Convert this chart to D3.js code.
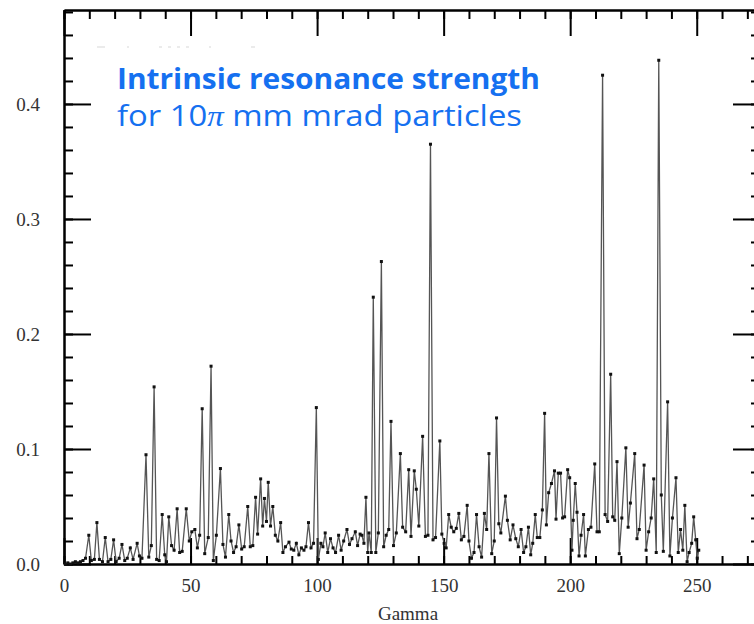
<!DOCTYPE html>
<html>
<head>
<meta charset="utf-8">
<script src="https://cdnjs.cloudflare.com/ajax/libs/d3/7.8.5/d3.min.js"></script>
<style>
  body { margin: 0; background: #fff; overflow: hidden; }
  svg { display: block; }
</style>
</head>
<body>
<script>
const width = 754
const height = 624

// gamma values and resonance strength
const gamma = [
  0.5, 1.5, 2.5, 3.5, 4.5, 5.5, 6.5, 7.5, 8.5, 9.8, 10.8, 12, 13, 14, 15.2, 16.3, 17.4, 18.5, 19.6, 20.6,
  21.8, 22.9, 24, 25, 26.2, 27.3, 28.9, 29.8, 30.8, 32.4, 33.5, 34.5, 35.6, 36.6, 37.6, 38.8, 39.8, 40.5, 41.4, 42.5,
  43.5, 44.7, 45.7, 46.7, 48.3, 49.5, 50.5, 51.7, 52.7, 53.6, 54.6, 55.6, 57, 58.1, 59, 60.2, 61.8, 62.8, 63.8, 65.1,
  66, 67, 68, 69.1, 70.2, 71.2, 72.6, 73.6, 74.6, 75.7, 76.5, 77.7, 78.5, 79.2, 80, 80.7, 81.6, 82.5, 83.5, 84.5,
  85.6, 86.5, 87.5, 88.9, 89.8, 90.8, 91.8, 92.8, 93.8, 94.8, 95.6, 96.6, 97.6, 98.6, 99.7, 100.5, 101.5, 102.3, 103.2, 104.2,
  105.3, 106.3, 107.3, 108.5, 109.5, 110.5, 111.8, 112.8, 113.8, 115.1, 116, 117, 117.7, 118.5, 119.3, 120, 120.5, 121.4, 122.2, 123.2,
  124.2, 125.4, 126.3, 127.3, 128.3, 129.2, 130.2, 131.3, 132.9, 133.8, 135, 136.2, 137.1, 138.4, 139.2, 140.2, 141.7, 142.8, 143.8, 144.8,
  145.8, 146.8, 148.5, 149.3, 150.2, 151, 152, 153, 154, 155, 156, 157, 158, 159.3, 160, 161, 162, 163, 164, 165,
  166.1, 167, 167.9, 169, 170, 170.9, 171.8, 172.6, 174.4, 175.2, 176.3, 177.4, 178.5, 179.5, 180.6, 181.6, 182.5, 183.5, 184.4, 185.2,
  186.2, 187, 188, 189, 189.9, 190.6, 191.5, 192.6, 193.8, 194.4, 195.3, 196.2, 197, 197.8, 199, 199.8, 200.7, 201.2, 202, 202.7,
  203.5, 204.3, 205.3, 206, 207.2, 208.2, 209.7, 210.6, 211.5, 212.8, 213.8, 214.8, 216, 216.8, 217.6, 218.5, 219.4, 220.4, 222, 222.9,
  223.8, 225.5, 226.4, 227.3, 229.2, 230, 231, 232, 233, 234, 235, 236, 236.8, 238.5, 239.4, 240.4, 241.8, 242.7, 243.6, 244.5,
  245.3, 246.2, 247, 248, 248.8, 249.6, 250.2, 250.8
]
const strength = [
  0.000, 0.001, 0.000, 0.001, 0.002, 0.001, 0.002, 0.003, 0.005, 0.025, 0.003, 0.004, 0.036, 0.004, 0.002, 0.023, 0.002, 0.004, 0.021, 0.002,
  0.005, 0.017, 0.003, 0.005, 0.014, 0.004, 0.018, 0.007, 0.005, 0.095, 0.006, 0.016, 0.154, 0.004, 0.003, 0.043, 0.008, 0.002, 0.041, 0.016,
  0.012, 0.048, 0.010, 0.011, 0.048, 0.020, 0.028, 0.030, 0.014, 0.025, 0.135, 0.009, 0.023, 0.172, 0.003, 0.025, 0.083, 0.017, 0.006, 0.043,
  0.020, 0.010, 0.015, 0.034, 0.013, 0.015, 0.050, 0.015, 0.016, 0.058, 0.026, 0.074, 0.033, 0.057, 0.037, 0.071, 0.033, 0.050, 0.025, 0.020,
  0.036, 0.010, 0.015, 0.019, 0.013, 0.012, 0.018, 0.008, 0.014, 0.012, 0.015, 0.036, 0.014, 0.018, 0.136, 0.004, 0.018, 0.015, 0.027, 0.010,
  0.022, 0.014, 0.010, 0.025, 0.012, 0.020, 0.030, 0.017, 0.022, 0.028, 0.016, 0.026, 0.025, 0.018, 0.058, 0.010, 0.027, 0.010, 0.232, 0.010,
  0.027, 0.263, 0.015, 0.025, 0.030, 0.124, 0.016, 0.027, 0.096, 0.032, 0.028, 0.082, 0.024, 0.081, 0.065, 0.033, 0.111, 0.024, 0.025, 0.365,
  0.021, 0.023, 0.107, 0.026, 0.018, 0.014, 0.043, 0.032, 0.028, 0.031, 0.044, 0.021, 0.024, 0.051, 0.020, 0.005, 0.010, 0.043, 0.015, 0.006,
  0.044, 0.030, 0.096, 0.009, 0.020, 0.127, 0.035, 0.027, 0.059, 0.038, 0.021, 0.034, 0.022, 0.015, 0.030, 0.010, 0.015, 0.032, 0.008, 0.018,
  0.043, 0.023, 0.023, 0.047, 0.131, 0.034, 0.062, 0.070, 0.081, 0.039, 0.079, 0.079, 0.040, 0.041, 0.082, 0.075, 0.012, 0.038, 0.070, 0.045,
  0.007, 0.025, 0.043, 0.007, 0.030, 0.032, 0.087, 0.028, 0.028, 0.425, 0.043, 0.037, 0.165, 0.041, 0.038, 0.089, 0.009, 0.040, 0.101, 0.032,
  0.053, 0.096, 0.022, 0.030, 0.086, 0.012, 0.028, 0.040, 0.074, 0.010, 0.438, 0.060, 0.011, 0.141, 0.007, 0.040, 0.075, 0.010, 0.030, 0.012,
  0.051, 0.002, 0.010, 0.018, 0.041, 0.021, 0.005, 0.012
]

const xTicks = [0, 50, 100, 150, 200, 250]
const yTicks = [0, 0.1, 0.2, 0.3, 0.4]

const titleLine1 = 'Intrinsic resonance strength'
const xLabel = 'Gamma'

let svg = d3.select('body').append('svg')
    .attr('width', width)
    .attr('height', height)

let x = d3.scaleLinear().domain([0, 275]).range([64, 760])
let y = d3.scaleLinear().domain([0, 0.4817]).range([564, 10])

let points = gamma.map((g, i) => ({ g: g, s: strength[i] }))

// AXES - majors with labels, minors without
let minorX = d3.range(0, 276, 10)
let minorY = d3.range(0, 0.481, 0.02)

function styleAxis(g) {
    g.selectAll('path.domain').attr('stroke', '#000').attr('stroke-width', 2)
    g.selectAll('.tick line').attr('stroke', '#000').attr('stroke-width', 2)
    g.selectAll('.tick text')
        .attr('fill', '#333')
        .style('font-family', '"Liberation Serif", "Times New Roman", serif')
        .style('font-size', '19px')
}

svg.append('g').attr('transform', 'translate(0,564)')
    .call(d3.axisBottom(x).tickValues(minorX).tickSize(-8).tickSizeOuter(0).tickFormat(''))
    .call(styleAxis)
svg.append('g').attr('transform', 'translate(0,564)')
    .call(d3.axisBottom(x).tickValues(xTicks).tickSize(-26).tickSizeOuter(0).tickPadding(15).tickFormat(d3.format('d')))
    .call(styleAxis)

svg.append('g').attr('transform', 'translate(0,10)')
    .call(d3.axisTop(x).tickValues(minorX).tickSize(-9).tickSizeOuter(0).tickFormat(''))
    .call(styleAxis)
svg.append('g').attr('transform', 'translate(0,10)')
    .call(d3.axisTop(x).tickValues(xTicks).tickSize(-26).tickSizeOuter(0).tickFormat(''))
    .call(styleAxis)

svg.append('g').attr('transform', 'translate(64,0)')
    .call(d3.axisLeft(y).tickValues(minorY).tickSize(-9).tickSizeOuter(0).tickFormat(''))
    .call(styleAxis)
svg.append('g').attr('transform', 'translate(64,0)')
    .call(d3.axisLeft(y).tickValues(yTicks).tickSize(-27).tickSizeOuter(0).tickPadding(24).tickFormat(d3.format('.1f')))
    .call(styleAxis)

svg.append('g').attr('transform', 'translate(760,0)')
    .call(d3.axisRight(y).tickValues(minorY).tickSize(-9).tickSizeOuter(0).tickFormat(''))
    .call(styleAxis)
svg.append('g').attr('transform', 'translate(760,0)')
    .call(d3.axisRight(y).tickValues(yTicks).tickSize(-27).tickSizeOuter(0).tickFormat(''))
    .call(styleAxis)

// faint leftover of an erased caption
svg.append('line')
    .attr('x1', 97).attr('x2', 255).attr('y1', 47).attr('y2', 47)
    .attr('stroke', '#d8d8d8').attr('stroke-width', 1.2)
    .attr('stroke-dasharray', '8 22 2 30 3 6 3 6 3 6 3 20 2 40')

// DATA LINE
let line = d3.line().x(d => x(d.g)).y(d => y(d.s))

svg.append('path')
    .datum(points)
    .attr('d', line)
    .attr('fill', 'none')
    .attr('stroke', '#555')
    .attr('stroke-width', 1.3)
    .attr('stroke-linejoin', 'miter')

svg.append('g').selectAll('rect')
    .data(points)
    .join('rect')
    .attr('x', d => x(d.g) - 1.5)
    .attr('y', d => y(d.s) - 1.5)
    .attr('width', 3)
    .attr('height', 3)
    .attr('fill', '#111')

// AXIS TITLE
svg.append('text')
    .attr('x', 408).attr('y', 620)
    .attr('text-anchor', 'middle')
    .attr('fill', '#333')
    .style('font-family', '"Liberation Serif", "Times New Roman", serif')
    .style('font-size', '19px')
    .text(xLabel)

// BLUE CAPTION
svg.append('text')
    .attr('x', 117).attr('y', 89)
    .attr('fill', '#1570f0')
    .attr('textLength', 423).attr('lengthAdjust', 'spacingAndGlyphs')
    .style('font-family', '"Open Sans", Lato, sans-serif')
    .style('font-weight', 'bold')
    .style('font-size', '29px')
    .text(titleLine1)

let line2 = svg.append('text')
    .attr('x', 117).attr('y', 126)
    .attr('fill', '#1570f0')
    .attr('textLength', 405).attr('lengthAdjust', 'spacingAndGlyphs')
    .style('font-family', '"Open Sans", Lato, sans-serif')
    .style('font-size', '29px')
line2.append('tspan').text('for 10')
line2.append('tspan')
    .style('font-family', '"Liberation Serif", "Times New Roman", serif')
    .style('font-style', 'italic')
    .text('π')
line2.append('tspan').text(' mm mrad particles')
</script>
</body>
</html>
